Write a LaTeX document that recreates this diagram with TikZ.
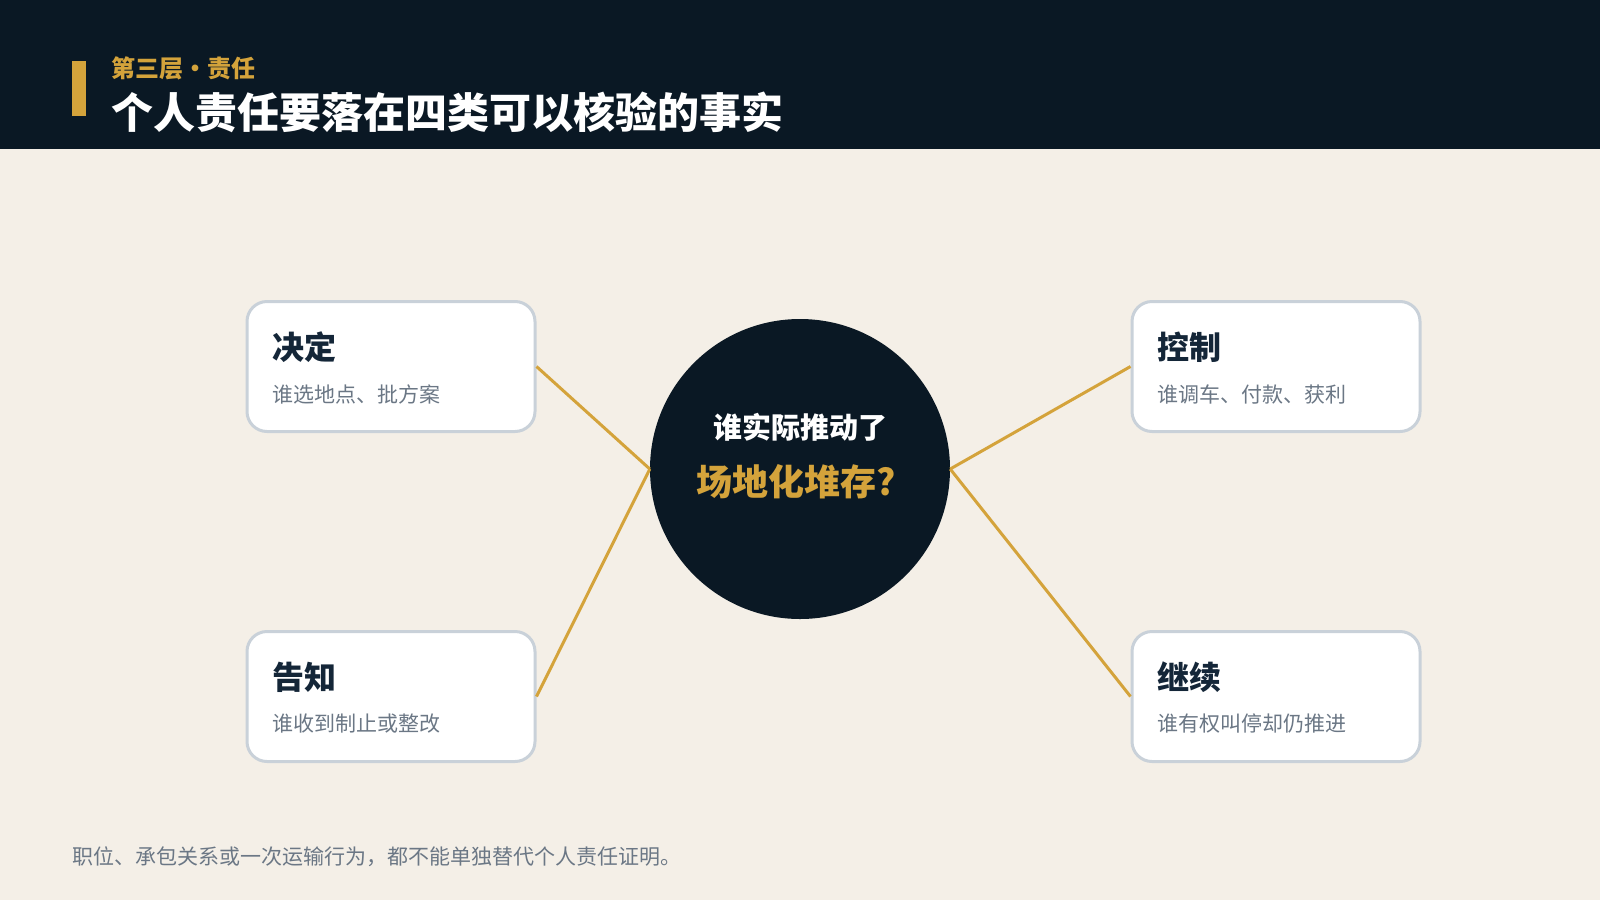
\documentclass[tikz,border=0pt]{standalone}
\usepackage{fontspec}
\setmainfont{Noto Sans CJK SC}
\definecolor{fond}{HTML}{F4EFE7}
\definecolor{nuit}{HTML}{0A1824}
\definecolor{or}{HTML}{D4A33B}
\definecolor{encre}{HTML}{142638}
\definecolor{gris}{HTML}{6B7785}
\definecolor{bord}{HTML}{C9D1D9}

\begin{document}
\begin{tikzpicture}[x=1pt, y=-1pt]
\tikzset{carte/.style={draw=bord, line width=3pt, fill=white, rounded corners=20pt, minimum width=288pt, minimum height=130pt, anchor=north west, inner sep=0pt},
  titre/.style={anchor=west, inner sep=0pt, text=encre, font=\fontsize{32}{38}\selectfont\bfseries},
  legende/.style={anchor=west, inner sep=0pt, text=gris, font=\fontsize{21}{25}\selectfont},
  lien/.style={draw=or, line width=3pt}}
\useasboundingbox (0, 0) rectangle (1600, 900);
\fill[fond] (0, 0) rectangle (1600, 900);
\fill[nuit] (0, 0) rectangle (1600, 149);
\fill[or] (72, 61) rectangle (86, 116);
\node[anchor=west, inner sep=0pt, text=or, font=\fontsize{24}{28}\selectfont\bfseries] (sur) at (111, 68) {第三层·责任};
\node[anchor=west, inner sep=0pt, text=white, font=\fontsize{42}{50}\selectfont\bfseries] (tete) at (111, 112) {个人责任要落在四类可以核验的事实};
\node[circle, fill=nuit, minimum size=300pt, inner sep=0pt] (Q) at (800, 469) {};
\node[inner sep=0pt, text=white, font=\fontsize{29}{34}\selectfont\bfseries] (Q1) at (800, 427) {谁实际推动了};
\node[inner sep=0pt, text=or, font=\fontsize{36}{42}\selectfont\bfseries] (Q2) at (796, 482) {场地化堆存?};
\node[carte] (C1) at (245.5, 300) {};
\node[carte] (C2) at (1130.5, 300) {};
\node[carte] (C3) at (245.5, 630) {};
\node[carte] (C4) at (1130.5, 630) {};
\node[titre] (T1) at (272, 347) {决定};
\node[legende] (L1) at (272, 394) {谁选地点、批方案};
\node[titre] (T2) at (1157, 347) {控制};
\node[legende] (L2) at (1157, 394) {谁调车、付款、获利};
\node[titre] (T3) at (272, 677) {告知};
\node[legende] (L3) at (272, 724) {谁收到制止或整改};
\node[titre] (T4) at (1157, 677) {继续};
\node[legende] (L4) at (1157, 724) {谁有权叫停却仍推进};
\draw[lien] (C1.east) -- (Q.west);
\draw[lien] (C3.east) -- (Q.west);
\draw[lien] (Q.east) -- (C2.west);
\draw[lien] (Q.east) -- (C4.west);
\node[anchor=west, inner sep=0pt, text=gris, font=\fontsize{21}{25}\selectfont] (pied) at (72, 857) {职位、承包关系或一次运输行为，都不能单独替代个人责任证明。};
\end{tikzpicture}
\end{document}
